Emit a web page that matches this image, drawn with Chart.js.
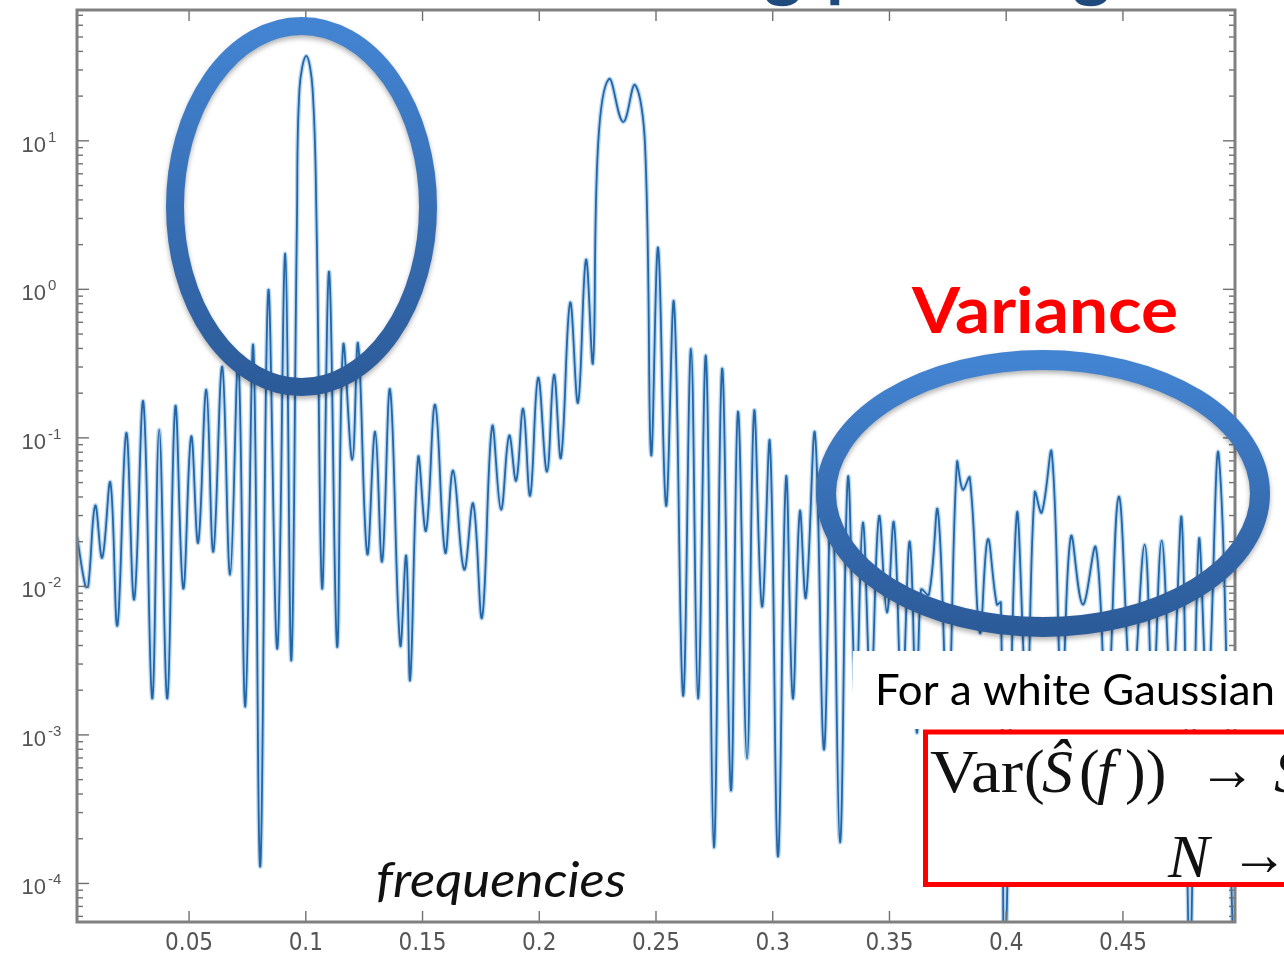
<!DOCTYPE html>
<html>
<head>
<meta charset="utf-8">
<title>Periodogram</title>
<script src="https://cdn.jsdelivr.net/npm/chart.js@4.4.1/dist/chart.umd.min.js"></script>
<style>
  html, body { margin: 0; padding: 0; background: #fff; overflow: hidden; }
  #wrap { width: 1284px; height: 959px; }
</style>
</head>
<body>
<div id="wrap"><canvas id="grafico" width="1284" height="959"></canvas></div>
<script>
// Frequencies (cycles/sample) of the peaks and nulls
const freqs = [
  0.0020, 0.0056, 0.0068, 0.0098, 0.0128, 0.0163, 0.0193, 0.0231, 0.0265, 0.0304,
  0.0342, 0.0372, 0.0407, 0.0441, 0.0475, 0.0509, 0.0539, 0.0574, 0.0604, 0.0642,
  0.0676, 0.0711, 0.0741, 0.0775, 0.0805, 0.0839, 0.0878, 0.0912, 0.0938, 0.0962,
  0.0973, 0.1002, 0.1029, 0.1046,
  0.1070, 0.1100, 0.1134, 0.1160, 0.1199, 0.1224, 0.1263, 0.1297, 0.1327, 0.1361,
  0.1404, 0.1430, 0.1447, 0.1481, 0.1515, 0.1554, 0.1597, 0.1631, 0.1678, 0.1717,
  0.1755, 0.1798, 0.1836, 0.1871, 0.1901, 0.1931, 0.1961, 0.1995, 0.2033, 0.2063,
  0.2093, 0.2132, 0.2166, 0.2200, 0.2230, 0.2252, 0.2299, 0.2359, 0.2410, 0.2453,
  0.2479, 0.2509,
  0.2543, 0.2577, 0.2616, 0.2650, 0.2680, 0.2714, 0.2748, 0.2783, 0.2821, 0.2851,
  0.2890, 0.2920, 0.2954, 0.2988, 0.3022, 0.3057, 0.3086, 0.3116, 0.3142, 0.3181,
  0.3219, 0.3253, 0.3288, 0.3322, 0.3356, 0.3386, 0.3420, 0.3455, 0.3489, 0.3519,
  0.3553, 0.3587, 0.3617, 0.3635, 0.3669, 0.3707, 0.3750, 0.3789, 0.3814, 0.3844,
  0.3887, 0.3921, 0.3960, 0.3977, 0.3994, 0.4045, 0.4088, 0.4122, 0.4152, 0.4195,
  0.4238, 0.4277, 0.4328, 0.4384, 0.4431, 0.4482, 0.4538, 0.4593, 0.4628, 0.4666,
  0.4709, 0.4752, 0.4786, 0.4825, 0.4863, 0.4910, 0.4974, 0.4980
];

// Periodogram values at those frequencies
const power = [
  0.0216, 0.0100, 0.0100, 0.0350, 0.0156, 0.050, 0.00545, 0.108, 0.00815, 0.175,
  0.00176, 0.1135, 0.00176, 0.162, 0.00967, 0.102, 0.0197, 0.211, 0.0171, 0.301,
  0.0120, 0.326, 0.00155, 0.417, 0.000130, 0.963, 0.00381, 1.74, 0.00317, 2.8,
  22.4, 37.3, 22.4, 2.8,
  0.00967, 1.31, 0.00394, 0.417, 0.0713, 0.430, 0.0166, 0.110, 0.0147, 0.211,
  0.00406, 0.0161, 0.00236, 0.0736, 0.0237, 0.167, 0.0169, 0.0602, 0.0130, 0.0361,
  0.00617, 0.119, 0.0329, 0.1035, 0.0515, 0.157, 0.0408, 0.254, 0.0592, 0.266,
  0.0736, 0.812, 0.1725, 1.58, 0.321, 9.4, 26.1, 13.4, 23.8, 9.4,
  0.0771, 1.905,
  0.0350, 0.812, 0.00184, 0.398, 0.00176, 0.352, 0.000175, 0.292, 0.000423, 0.150,
  0.000693, 0.150, 0.00731, 0.0929, 0.000152, 0.0540, 0.00176, 0.0319, 0.00841, 0.107,
  0.000798, 0.061, 0.000189, 0.054, 0.00173, 0.0269, 0.00202, 0.0295, 0.00667, 0.0269,
  0.00173, 0.0200, 0.00104, 0.0095, 0.0088, 0.0324, 0.00127, 0.0681, 0.0448, 0.054,
  0.00489, 0.0207, 0.00755, 0.0078, 0.00003, 0.0304, 0.00173, 0.0428, 0.0314, 0.0795,
  0.00173, 0.0216, 0.00755, 0.0182, 0.00127, 0.0402, 0.00173, 0.0191, 0.00173, 0.0203,
  0.00173, 0.0282, 0.00003, 0.0203, 0.00173, 0.0771, 0.00003, 0.00003
];

const xTicks = [0.05, 0.1, 0.15, 0.2, 0.25, 0.3, 0.35, 0.4, 0.45];
const xTickLabels = ["0.05", "0.1", "0.15", "0.2", "0.25", "0.3", "0.35", "0.4", "0.45"];
const yTicks = [1e-4, 1e-3, 1e-2, 1e-1, 1, 10];
const yTickExps = ["-4", "-3", "-2", "-1", "0", "1"];
const xRange = [0.002, 0.498];
const yRange = [5.5e-5, 76];

// Ejes estilo MATLAB: caja gris, marcas hacia dentro, etiquetas 10^n
const ejesMatlab = {
    id: "ejesMatlab",
    afterDatasetsDraw(chart) {
        const { ctx, chartArea: a, scales } = chart;
        const x = scales.x, y = scales.y;
        ctx.save();
        ctx.strokeStyle = "#707070";
        ctx.lineWidth = 1.4;
        const line = (x1, y1, x2, y2) => {
            ctx.beginPath(); ctx.moveTo(x1, y1); ctx.lineTo(x2, y2); ctx.stroke();
        };
        xTicks.forEach(v => {
            const px = x.getPixelForValue(v);
            line(px, a.bottom, px, a.bottom - 11);
            line(px, a.top, px, a.top + 11);
        });
        yTicks.forEach(v => {
            const py = y.getPixelForValue(v);
            line(a.left, py, a.left + 12, py);
            line(a.right, py, a.right - 12, py);
        });
        // marcas menores del eje logaritmico
        for (let e = -5; e <= 1; e++) {
            for (let m = 2; m <= 9; m++) {
                const v = m * Math.pow(10, e);
                if (v < yRange[0] || v > yRange[1]) continue;
                const py = y.getPixelForValue(v);
                line(a.left, py, a.left + 6, py);
                line(a.right, py, a.right - 6, py);
            }
        }
        ctx.strokeStyle = "#808080";
        ctx.lineWidth = 3;
        ctx.strokeRect(a.left, a.top, a.right - a.left, a.bottom - a.top);

        // etiquetas
        ctx.fillStyle = "#555";
        ctx.font = '24px "Liberation Sans Narrow", "DejaVu Sans Condensed", sans-serif';
        ctx.textAlign = "center";
        ctx.textBaseline = "middle";
        xTicks.forEach((v, i) => ctx.fillText(xTickLabels[i], x.getPixelForValue(v), a.bottom + 22));
        ctx.textBaseline = "alphabetic";
        yTicks.forEach((v, i) => {
            const py = y.getPixelForValue(v);
            ctx.font = '22px "Liberation Sans", sans-serif';
            ctx.textAlign = "right";
            ctx.fillText("10", 46, py + 11);
            ctx.font = '15px "Liberation Sans", sans-serif';
            ctx.textAlign = "left";
            ctx.fillText(yTickExps[i], 48, py + 1);
        });
        ctx.restore();
    }
};

// Texto ajustado a un ancho dado (imita la tipografia de la diapositiva)
function textoAjustado(ctx, texto, x, base, font, ancho) {
    ctx.font = font;
    const w = ctx.measureText(texto).width;
    ctx.save();
    ctx.translate(x, base);
    ctx.scale(ancho / w, 1);
    ctx.textAlign = "left";
    ctx.fillText(texto, 0, 0);
    ctx.restore();
}

function elipse(ctx, cx, cy, rx, ry, grosor) {
    const g = ctx.createLinearGradient(0, cy - ry, 0, cy + ry);
    g.addColorStop(0, "#4384d2");
    g.addColorStop(1, "#2c5b99");
    ctx.save();
    ctx.shadowColor = "rgba(0,0,0,0.3)";
    ctx.shadowBlur = 5;
    ctx.shadowOffsetY = 3;
    ctx.beginPath();
    ctx.ellipse(cx, cy, rx, ry, 0, 0, 2 * Math.PI);
    ctx.strokeStyle = g;
    ctx.lineWidth = grosor;
    ctx.stroke();
    ctx.restore();
}

const anotaciones = {
    id: "anotaciones",
    afterDraw(chart) {
        const ctx = chart.ctx;
        ctx.save();
        ctx.textBaseline = "alphabetic";

        // titulo de la diapositiva, cortado arriba
        ctx.fillStyle = "#1f4a7c";
        ctx.font = 'bold 100px Lato, sans-serif';
        const tam = 100 * 247 / ctx.measureText("periodo").width;
        ctx.font = `bold ${tam}px Lato, sans-serif`;
        ctx.textAlign = "right";
        ctx.fillText("Smoothing", 802, -7);
        ctx.textAlign = "left";
        ctx.fillText("periodogram", 826, -7);

        elipse(ctx, 301.5, 206.5, 126.5, 180.5, 18);
        elipse(ctx, 1043, 493.5, 217, 133.5, 20);

        ctx.fillStyle = "#ff0000";
        textoAjustado(ctx, "Variance", 912, 333, 'bold 64px Lato, sans-serif', 266);

        ctx.fillStyle = "#111";
        textoAjustado(ctx, "frequencies", 376, 897, 'italic 48px Lato, sans-serif', 250);

        // recuadro blanco con el texto
        ctx.fillStyle = "#fff";
        ctx.fillRect(853, 651, 431, 78);
        ctx.fillStyle = "#000";
        textoAjustado(ctx, "For a white Gaussian", 875, 705, '42px Lato, sans-serif', 400);

        // recuadro rojo con la formula
        ctx.fillStyle = "#fff";
        ctx.fillRect(925, 732, 400, 152);
        ctx.strokeStyle = "#ff0000";
        ctx.lineWidth = 5;
        ctx.strokeRect(925.5, 732, 420, 152.5);

        ctx.fillStyle = "#111";
        const serif = '"Liberation Serif", "DejaVu Serif", serif';
        const rec = '62px ' + serif;
        const ita = 'italic 62px ' + serif;
        textoAjustado(ctx, "Var", 930, 792, rec, 93);
        ctx.font = rec; ctx.textAlign = "left";
        ctx.fillText("(", 1024, 792);
        ctx.font = ita; ctx.fillText("Ŝ", 1042, 792);
        ctx.font = rec; ctx.fillText("(", 1079, 792);
        ctx.font = ita; ctx.fillText("f", 1097, 792);
        ctx.font = rec; ctx.fillText("))", 1125, 792);
        textoAjustado(ctx, "→", 1198, 790, rec, 58);
        ctx.font = ita; ctx.fillText("S", 1274, 792);
        ctx.font = ita; ctx.fillText("N", 1168, 877);
        textoAjustado(ctx, "→", 1230, 875, rec, 58);
        ctx.restore();
    }
};

const puntos = freqs.map((f, i) => ({ x: f, y: power[i] }));

new Chart(document.getElementById("grafico").getContext("2d"), {
    type: "line",
    data: {
        datasets: [
            {
                data: puntos,
                borderColor: "#2366a6",
                borderWidth: 1.8,
                pointRadius: 0,
                tension: 0.4,
                order: 1
            },
            {
                data: puntos,
                borderColor: "rgba(100,165,225,0.45)",
                borderWidth: 4.5,
                pointRadius: 0,
                tension: 0.4,
                order: 2
            }
        ]
    },
    options: {
        responsive: false,
        animation: false,
        devicePixelRatio: 1,
        layout: { padding: { top: 10, right: 49, left: 0, bottom: 0 } },
        plugins: { legend: { display: false }, tooltip: { enabled: false } },
        scales: {
            x: {
                type: "linear", min: xRange[0], max: xRange[1],
                grid: { display: false }, border: { display: false },
                ticks: { display: false },
                afterFit(s) { s.height = 37; }
            },
            y: {
                type: "logarithmic", min: yRange[0], max: yRange[1],
                grid: { display: false }, border: { display: false },
                ticks: { display: false },
                afterFit(s) { s.width = 77; }
            }
        }
    },
    plugins: [ejesMatlab, anotaciones]
});
</script>
</body>
</html>
